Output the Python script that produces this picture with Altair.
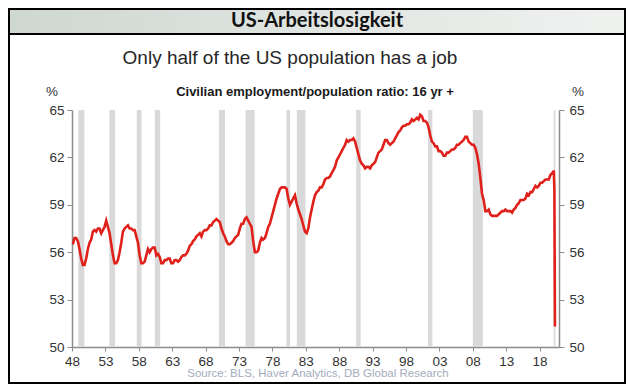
import altair as alt
import pandas as pd

# Employment/population ratio, quarterly, 1948Q1 .. 2019Q4
emp_ratio_quarterly = [
    56.5, 56.9, 56.9, 56.7,   # 1948
    56.2, 55.6, 55.2, 55.2,   # 1949
    55.6, 56.2, 56.6, 56.8,   # 1950
    57.3, 57.4, 57.3, 57.5,   # 1951
    57.5, 57.2, 57.4, 57.6,   # 1952
    58.0, 57.6, 57.2, 56.5,   # 1953
    55.8, 55.3, 55.3, 55.5,   # 1954
    56.0, 56.6, 57.3, 57.5,   # 1955
    57.6, 57.7, 57.5, 57.5,   # 1956
    57.4, 57.4, 57.0, 56.6,   # 1957
    55.8, 55.3, 55.3, 55.4,   # 1958
    55.8, 56.2, 56.0, 56.2,   # 1959
    56.3, 56.3, 55.8, 55.9,   # 1960
    55.7, 55.3, 55.3, 55.5,   # 1961
    55.5, 55.6, 55.6, 55.3,   # 1962
    55.3, 55.5, 55.5, 55.4,   # 1963
    55.5, 55.7, 55.8, 55.8,   # 1964
    55.9, 56.1, 56.4, 56.5,   # 1965
    56.7, 56.8, 57.0, 57.1,   # 1966
    57.2, 57.0, 57.3, 57.4,   # 1967
    57.4, 57.5, 57.7, 57.7,   # 1968
    57.9, 58.0, 58.1, 58.0,   # 1969
    57.9, 57.5, 57.2, 57.0,   # 1970
    56.7, 56.5, 56.5, 56.6,   # 1971
    56.7, 56.9, 57.0, 57.1,   # 1972
    57.5, 57.8, 57.8, 58.1,   # 1973
    58.2, 58.0, 57.8, 57.6,   # 1974
    56.7, 56.0, 56.0, 56.1,   # 1975
    56.6, 56.9, 56.8, 56.9,   # 1976
    57.2, 57.6, 57.8, 58.2,   # 1977
    58.6, 59.0, 59.4, 59.7,   # 1978
    60.0, 60.1, 60.1, 60.1,   # 1979
    60.0, 59.4, 59.0, 59.2,   # 1980
    59.4, 59.6, 59.1, 58.7,   # 1981
    58.4, 58.1, 57.7, 57.3,   # 1982
    57.2, 57.5, 58.2, 58.7,   # 1983
    59.2, 59.6, 59.8, 59.9,   # 1984
    60.1, 60.1, 60.3, 60.6,   # 1985
    60.7, 60.7, 60.8, 61.0,   # 1986
    61.2, 61.4, 61.8, 62.0,   # 1987
    62.2, 62.4, 62.6, 62.8,   # 1988
    63.1, 63.0, 63.1, 63.1,   # 1989
    63.2, 63.0, 62.6, 62.2,   # 1990
    61.8, 61.6, 61.5, 61.3,   # 1991
    61.4, 61.4, 61.3, 61.5,   # 1992
    61.6, 61.7, 62.0, 62.3,   # 1993
    62.4, 62.5, 62.8, 63.1,   # 1994
    63.1, 62.9, 62.8, 62.9,   # 1995
    63.0, 63.2, 63.4, 63.6,   # 1996
    63.7, 63.9, 64.0, 64.0,   # 1997
    64.1, 64.1, 64.2, 64.4,   # 1998
    64.3, 64.4, 64.5, 64.4,   # 1999
    64.7, 64.6, 64.3, 64.3,   # 2000
    64.2, 63.9, 63.4, 63.0,   # 2001
    62.9, 62.7, 62.7, 62.4,   # 2002
    62.4, 62.3, 62.1, 62.1,   # 2003
    62.3, 62.3, 62.4, 62.5,   # 2004
    62.5, 62.6, 62.8, 62.8,   # 2005
    62.9, 63.0, 63.1, 63.3,   # 2006
    63.3, 63.0, 62.9, 62.8,   # 2007
    62.8, 62.6, 62.2, 61.6,   # 2008
    60.7, 59.7, 59.3, 58.6,   # 2009
    58.6, 58.7, 58.4, 58.3,   # 2010
    58.3, 58.3, 58.3, 58.4,   # 2011
    58.5, 58.6, 58.6, 58.7,   # 2012
    58.6, 58.6, 58.6, 58.5,   # 2013
    58.7, 58.8, 59.0, 59.1,   # 2014
    59.3, 59.3, 59.3, 59.4,   # 2015
    59.7, 59.6, 59.8, 59.8,   # 2016
    60.0, 60.2, 60.1, 60.2,   # 2017
    60.4, 60.4, 60.5, 60.6,   # 2018
    60.6, 60.6, 60.9, 61.0,   # 2019
]
first_year = 1948
# 2020, monthly Jan..Apr
emp_ratio_2020_monthly = [61.1, 61.1, 60.0, 51.3]

# Recession periods (shaded), fractional years
recession_start = [1948.95, 1953.6, 1957.7, 1960.4, 1970.0, 1974.0, 1980.1, 1981.65, 1990.55, 2001.3, 2008.0, 2020.1]
recession_end = [1949.85, 1954.45, 1958.4, 1961.2, 1970.9, 1975.35, 1980.65, 1982.95, 1991.2, 2001.95, 2009.5, 2020.35]

x_ticks = [1948, 1953, 1958, 1963, 1968, 1973, 1978, 1983, 1988, 1993, 1998, 2003, 2008, 2013, 2018]
y_ticks = [50, 53, 56, 59, 62, 65]

rows = []
for i, v in enumerate(emp_ratio_quarterly):
    rows.append({"t": first_year + i / 4 + 0.125, "v": v})
for m, v in enumerate(emp_ratio_2020_monthly):
    rows.append({"t": 2020 + (m + 0.5) / 12, "v": v})
series = pd.DataFrame(rows)
bands = pd.DataFrame({"start": recession_start, "end": recession_end})
one = pd.DataFrame({"a": [0]})

W, H = 487, 237
FONT = "Liberation Sans"

x_scale = alt.Scale(domain=[1948, 2020.9], nice=False, zero=False)
y_scale = alt.Scale(domain=[50, 65], nice=False, zero=False)
x_axis = alt.Axis(values=x_ticks, labelExpr="substring(toString(datum.value), 2)",
                  title=None, grid=False, domainColor="#8c8c8c", tickColor="#8c8c8c",
                  tickSize=4, labelFontSize=13.5, labelColor="#333333", labelFont=FONT,
                  labelFlush=False, labelPadding=3, domainWidth=1.5)

header = alt.Chart(one).mark_rect(
    fill=alt.LinearGradient(gradient="linear",
                            stops=[alt.GradientStop(color="#cfd7d1", offset=0),
                                   alt.GradientStop(color="#e3e8e4", offset=0.6),
                                   alt.GradientStop(color="#f0f2f0", offset=1)],
                            x1=0, x2=1, y1=0, y2=0)
).encode(x=alt.value(-63), x2=alt.value(553), y=alt.value(-101), y2=alt.value(-76))

header_line = alt.Chart(one).mark_rule(color="black", strokeWidth=2).encode(
    x=alt.value(-63), x2=alt.value(553), y=alt.value(-76))

frame = alt.Chart(one).mark_rect(filled=False, stroke="black", strokeWidth=2).encode(
    x=alt.value(-63), x2=alt.value(553), y=alt.value(-101), y2=alt.value(273))

band_layer = alt.Chart(bands).mark_rect(color="#d9d9d9").encode(
    x=alt.X("start:Q", scale=x_scale, axis=x_axis),
    x2="end:Q",
    y=alt.value(0), y2=alt.value(H))

line_left = alt.Chart(series).mark_line(color="#e0201b", strokeWidth=2.6).encode(
    x=alt.X("t:Q", scale=x_scale, axis=x_axis),
    y=alt.Y("v:Q", scale=y_scale,
            axis=alt.Axis(values=y_ticks, orient="left", title=None, grid=False,
                          domainColor="#8c8c8c", tickColor="#8c8c8c", tickSize=5,
                          labelFontSize=13.5, labelColor="#333333", labelFont=FONT,
                          labelPadding=3, domainWidth=1.5)))

line_right = alt.Chart(series).mark_line(opacity=0).encode(
    x=alt.X("t:Q", scale=x_scale, axis=x_axis),
    y=alt.Y("v:Q", scale=y_scale,
            axis=alt.Axis(values=y_ticks, orient="right", title=None, grid=False,
                          domainColor="#8c8c8c", tickColor="#8c8c8c", tickSize=5,
                          labelFontSize=13.5, labelColor="#333333", labelFont=FONT,
                          labelPadding=5, domainWidth=1.5)))


def label(txt, x, y, size, weight="normal", color="#222222", font=FONT, align="center"):
    return alt.Chart(one).mark_text(fontSize=size, fontWeight=weight, color=color,
                                    font=font, align=align, baseline="middle").encode(
        x=alt.value(x), y=alt.value(y), text=alt.value(txt))


texts = [
    label("US-Arbeitslosigkeit", 245, -89, 20, "bold", "#111111", "Lato"),
    label("Only half of the US population has a job", 218, -52, 19, "normal", "#262626"),
    label("Civilian employment/population ratio: 16 yr +", 243, -18, 13, "bold", "#1a1a1a"),
    label("%", -20, -18, 13.5, "normal", "#333333"),
    label("%", 506, -18, 13.5, "normal", "#333333"),
    label("Source: BLS, Haver Analytics, DB Global Research", 246, 264, 11.5, "normal", "#a2acbd"),
]

chart = alt.layer(header, header_line, frame, band_layer, line_left, line_right, *texts).resolve_axis(
    y="independent"
).properties(
    width=W, height=H,
    autosize=alt.AutoSizeParams(type="none"),
    padding={"left": 64, "top": 102, "right": 67, "bottom": 37},
).configure_view(stroke=None)

chart.save("out.html", embed_options={"renderer": "svg", "actions": False})
